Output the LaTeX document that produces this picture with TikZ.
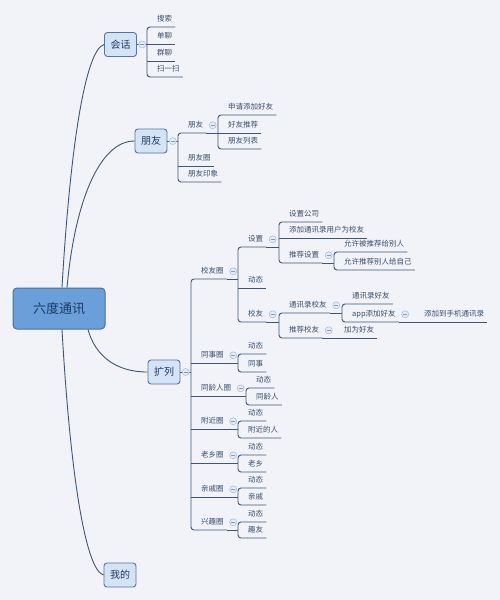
\documentclass[tikz,border=0pt]{standalone}
\usepackage{fontspec}
\setmainfont{Noto Sans CJK SC}
\usetikzlibrary{positioning}
\definecolor{pagebg}{HTML}{F1F3F8}
\definecolor{wireblue}{HTML}{3E5677}
\definecolor{leaftext}{HTML}{3A4F6E}
\definecolor{topicfill}{HTML}{D5E3F6}
\definecolor{topicline}{HTML}{56769E}
\definecolor{hubfill}{HTML}{6A9FDA}
\definecolor{hubline}{HTML}{44729F}
\definecolor{hubtext}{HTML}{1C3A64}
\definecolor{foldline}{HTML}{A9C1E2}
\definecolor{foldfill}{HTML}{E4ECF8}

\begin{document}
\begin{tikzpicture}[
  x=1pt, y=-1pt,
  wire/.style={draw=wireblue, line width=0.9pt},
  hubbox/.style={
    draw=hubline,
    line width=1pt,
    fill=hubfill,
    rectangle,
    rounded corners=4pt,
    minimum width=92pt,
    minimum height=41pt,
    text=hubtext,
    font=\fontsize{13}{15}\selectfont
  },
  topicbox/.style={
    draw=topicline,
    line width=0.9pt,
    fill=topicfill,
    rectangle,
    rounded corners=3pt,
    minimum width=32pt,
    minimum height=24pt,
    text=hubtext,
    font=\fontsize{10}{12}\selectfont
  },
  leaf/.style={
    anchor=south west,
    inner xsep=3pt,
    inner ysep=3.5pt,
    text height=6.5pt,
    text depth=1.5pt,
    text=leaftext,
    font=\fontsize{7.5}{9}\selectfont,
    execute at begin node=\hspace*{7pt}
  },
  fold/.style={
    circle,
    draw=foldline,
    fill=foldfill,
    line width=0.6pt,
    minimum size=7pt,
    inner sep=0pt,
    path picture={\draw[foldline!80!black, line width=0.6pt]
      ([xshift=-1.8pt]path picture bounding box.center) --
      ([xshift=1.8pt]path picture bounding box.center);}
  }
]

  % --- Page ---
  \fill[pagebg] (0,0) rectangle (500,600);
  \useasboundingbox (0,0) rectangle (500,600);

  % --- Central topic and main topics ---
  \node[hubbox]   (hub)     at (59,308.5) {六度通讯};
  \node[topicbox] (talk)    at (120.5,44.5) {会话};
  \node[topicbox] (friends) at (151,141)  {朋友};
  \node[topicbox] (expand)  at (164,372)  {扩列};
  \node[topicbox] (mine)    at (120,575)  {我的};

  % Curved links from the centre
  \draw[wire] ([xshift=3pt]hub.north)  .. controls (70,150) and (85,50)    .. (talk.west);
  \draw[wire] ([xshift=8pt]hub.north)  .. controls (75,200) and (100,141)  .. (friends.west);
  \draw[wire] ([xshift=29pt]hub.south) .. controls (95,355) and (115,372)  .. (expand.west);
  \draw[wire] ([xshift=3pt]hub.south)  .. controls (70,470) and (85,570)   .. (mine.west);

  % --- 会话 ---
  \node[leaf] (t1) at (147,27) {搜索};
  \node[leaf] (t2) at (147,44) {单聊};
  \node[leaf] (t3) at (147,61) {群聊};
  \node[leaf] (t4) at (147,77) {扫一扫};

  % --- 朋友 ---
  \node[leaf] (f1)  at (178,133) {朋友};
  \node[leaf] (f2)  at (178,166) {朋友圈};
  \node[leaf] (f3)  at (178,182) {朋友印象};
  \node[leaf] (f1a) at (218,115) {申请添加好友};
  \node[leaf] (f1b) at (218,133) {好友推荐};
  \node[leaf] (f1c) at (218,149) {朋友列表};

  % --- 扩列 ---
  \node[leaf] (e1) at (191,279) {校友圈};
  \node[leaf] (e2) at (191,363) {同事圈};
  \node[leaf] (e3) at (191,396) {同龄人圈};
  \node[leaf] (e4) at (191,429) {附近圈};
  \node[leaf] (e5) at (191,463) {老乡圈};
  \node[leaf] (e6) at (191,497) {亲戚圈};
  \node[leaf] (e7) at (191,530) {兴趣圈};

  % 校友圈 branch
  \node[leaf] (e1a)    at (238,247) {设置};
  \node[leaf] (e1b)    at (238,288) {动态};
  \node[leaf] (e1c)    at (238,322) {校友};
  \node[leaf] (e1a1)   at (279,222) {设置公司};
  \node[leaf] (e1a2)   at (279,238) {添加通讯录用户为校友};
  \node[leaf] (e1a3)   at (279,263) {推荐设置};
  \node[leaf] (e1a3a)  at (334,252) {允许被推荐给别人};
  \node[leaf] (e1a3b)  at (334,270) {允许推荐别人给自己};
  \node[leaf] (e1c1)   at (279,313) {通讯录校友};
  \node[leaf] (e1c2)   at (279,338) {推荐校友};
  \node[leaf] (e1c1a)  at (342,304) {通讯录好友};
  \node[leaf] (e1c1b)  at (342,322) {app添加好友};
  \node[leaf] (e1c1b1) at (414,322) {添加到手机通讯录};
  \node[leaf] (e1c2a)  at (334,338) {加为好友};

  % the other circles
  \node[leaf] (e2a) at (238,354) {动态};
  \node[leaf] (e2b) at (238,372) {同事};
  \node[leaf] (e3a) at (246,388) {动态};
  \node[leaf] (e3b) at (246,405) {同龄人};
  \node[leaf] (e4a) at (238,421) {动态};
  \node[leaf] (e4b) at (238,438) {附近的人};
  \node[leaf] (e5a) at (238,455) {动态};
  \node[leaf] (e5b) at (238,472) {老乡};
  \node[leaf] (e6a) at (238,488) {动态};
  \node[leaf] (e6b) at (238,505) {亲戚};
  \node[leaf] (e7a) at (238,522) {动态};
  \node[leaf] (e7b) at (238,538) {趣友};

  % --- Spines (first child -- last child) ---
  \foreach \a/\b in {t1/t4, f1/f3, f1a/f1c, e1/e7, e1a/e1c, e1a1/e1a3, e1a3a/e1a3b,
                     e1c1/e1c2, e1c1a/e1c1b, e2a/e2b, e3a/e3b, e4a/e4b, e5a/e5b,
                     e6a/e6b, e7a/e7b}
    \draw[wire, rounded corners=3pt] (\a.south east) -- (\a.south west) -- (\b.south west) -- (\b.south east);

  % Underlines of the middle children
  \foreach \n in {t2, t3, f2, f1b, e2, e3, e4, e5, e6, e1b, e1a2, e1c1b1, e1c2a}
    \draw[wire] (\n.south west) -- (\n.south east);

  % Parent lines running on to their spines
  \foreach \p/\c in {f1/f1a, e1/e1a, e1a/e1a1, e1a3/e1a3a, e1c/e1c1, e1c1/e1c1a,
                     e1c1b/e1c1b1, e1c2/e1c2a, e2/e2a, e3/e3a, e4/e4a, e5/e5a,
                     e6/e6a, e7/e7a}
    \draw[wire] (\p.south east) -- (\p.south east -| \c.south west);

  % Main topics to their spines
  \foreach \p/\c in {talk/t1, friends/f1, expand/e1}
    \draw[wire] (\p.east) -- (\p.east -| \c.south west);

  % --- Fold markers ---
  \foreach \p in {talk, friends, expand}
    \node[fold, right=1.5pt of \p] {};
  \foreach \p in {f1, e1, e1a, e1a3, e1c, e1c1, e1c1b, e1c2, e2, e3, e4, e5, e6, e7}
    \node[fold, right=2.5pt of \p] {};

\end{tikzpicture}
\end{document}
